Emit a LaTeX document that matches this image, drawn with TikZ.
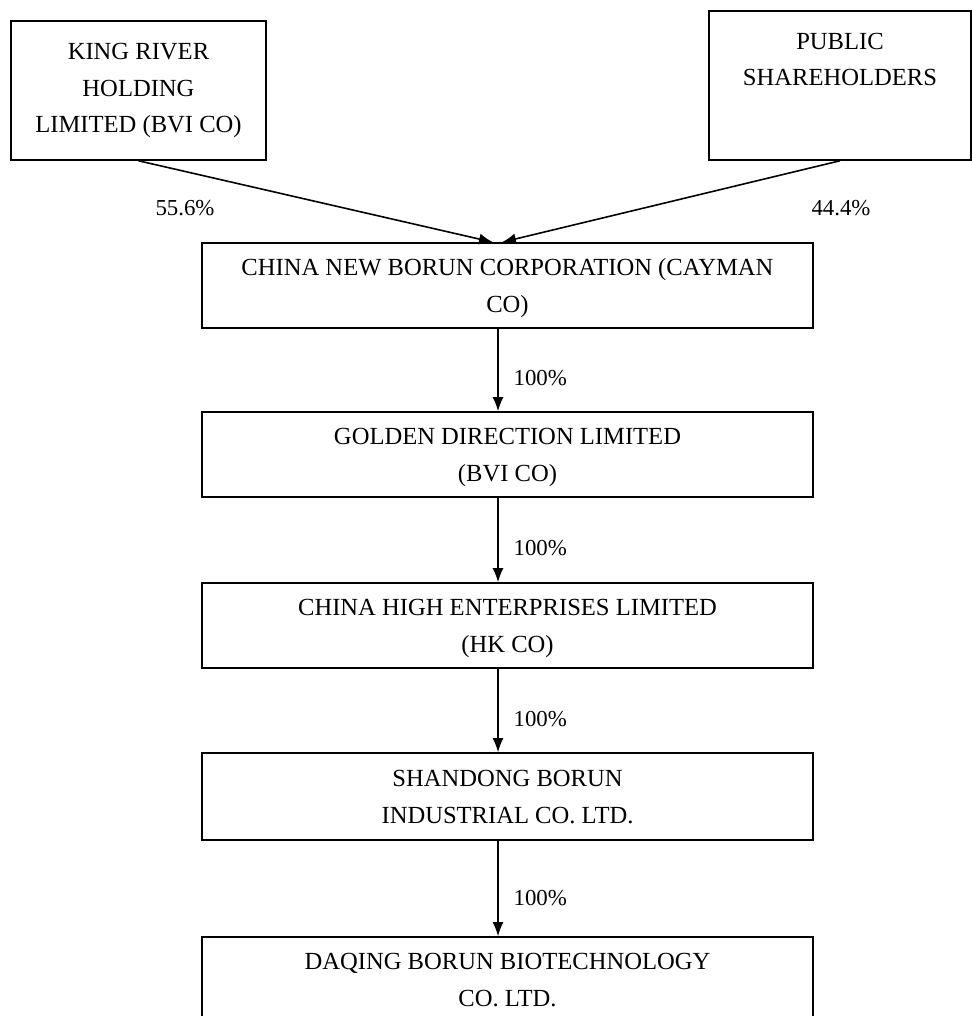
\documentclass[tikz,border=0pt]{standalone}
\usepackage{fontspec}
\setmainfont{Liberation Serif}
\usetikzlibrary{arrows.meta}

\tikzset{
  entity/.style={draw, line width=0.9pt, minimum width=12.22cm, minimum height=1.7cm,
    align=center, inner sep=0pt, font=\fontsize{14}{21}\selectfont,
    text depth=0pt, execute at begin node=\rule{0pt}{25pt}},
  holder/.style={draw, line width=0.9pt, minimum width=5.1cm, minimum height=2.78cm,
    align=center, inner sep=0pt, font=\fontsize{14}{21}\selectfont},
  share/.style={font=\fontsize{13}{16}\selectfont},
  own/.style={-{Latex[length=0.28cm,width=0.22cm]}, line width=0.9pt}
}

\begin{document}
\begin{tikzpicture}[x=0.02cm,y=-0.02cm]
\useasboundingbox (0,0) rectangle (972,1016);
\coordinate (spine) at (498,0);
% owners
\node[holder] (king) at (138.5,90.5) {KING RIVER\\HOLDING\\LIMITED (BVI CO)};
\node[holder, minimum width=5.24cm, minimum height=2.98cm] (public) at (840,85.5) {};
\node[align=center, font=\fontsize{14}{21}\selectfont] (publictext) at (840,59.5) {PUBLIC\\SHAREHOLDERS};
% chain of companies
\node[entity] (cayman) at (507.5,285.5) {CHINA NEW BORUN CORPORATION (CAYMAN\\CO)};
\node[entity] (golden) at (507.5,454.5) {GOLDEN DIRECTION LIMITED\\(BVI CO)};
\node[entity] (high) at (507.5,625.5) {CHINA HIGH ENTERPRISES LIMITED\\(HK CO)};
\node[entity, minimum height=1.74cm] (shandong) at (507.5,796.5) {SHANDONG BORUN\\INDUSTRIAL CO. LTD.};
\node[entity] (daqing) at (507.5,979.5) {DAQING BORUN BIOTECHNOLOGY\\CO. LTD.};
% holdings
\draw[own] (king.south) -- ([xshift=-0.1cm]spine |- cayman.north);
\draw[own] (public.south) -- ([xshift=0.08cm]spine |- cayman.north);
\node[share] (kingpct) at (185,208) {55.6\%};
\node[share] (publicpct) at (841,208) {44.4\%};
\foreach \a/\b/\n in {cayman/golden/p1, golden/high/p2, high/shandong/p3, shandong/daqing/p4}
  \draw[own] (spine |- \a.south) -- (spine |- \b.north)
    node[share, pos=0.6, right, xshift=0.18cm] (\n) {100\%};
\end{tikzpicture}
\end{document}
